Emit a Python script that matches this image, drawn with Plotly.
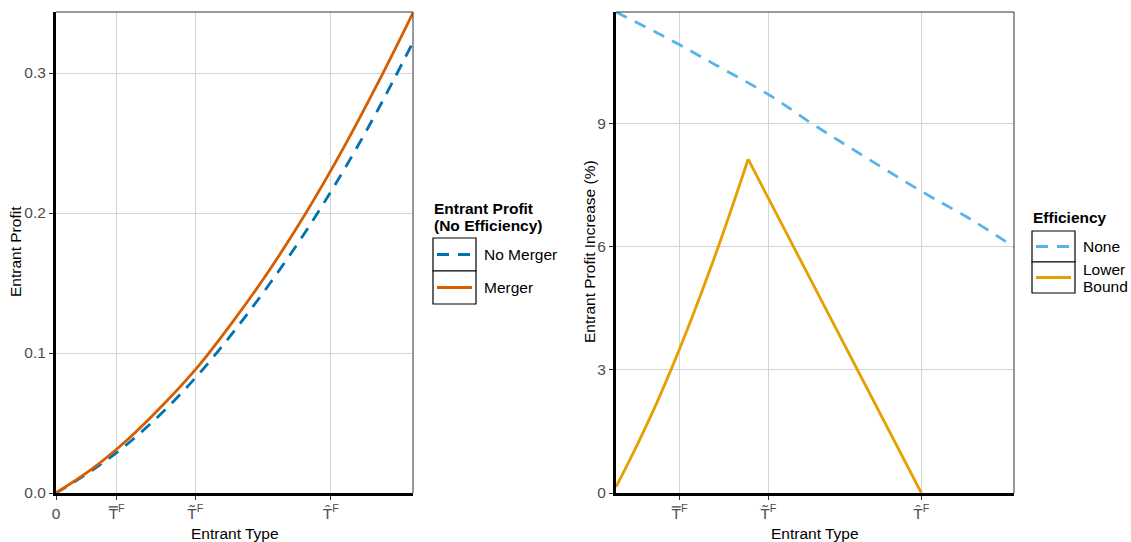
import plotly.graph_objects as go

W, H = 1131, 542

# ---------------- data ----------------
entrant_type = [0.0, 0.1, 0.2, 0.3, 0.4, 0.5, 0.6, 0.7, 0.8, 0.9, 1.0]
profit_no_merger = [0.0, 0.016, 0.035, 0.058, 0.085, 0.116, 0.150, 0.187, 0.228, 0.273, 0.322]
profit_merger = [0.0, 0.017, 0.038, 0.063, 0.091, 0.124, 0.160, 0.200, 0.244, 0.292, 0.343]

type_none = [0.012, 0.1, 0.17, 0.25, 0.39, 0.5, 0.6, 0.77, 0.9, 1.0]
increase_none = [11.73, 11.29, 10.93, 10.49, 9.72, 9.0, 8.38, 7.36, 6.63, 6.0]

type_lower_rise = [0.012, 0.05, 0.1, 0.15, 0.2, 0.25, 0.3, 0.34]
increase_lower_rise = [0.15, 0.88, 1.91, 3.04, 4.26, 5.57, 6.97, 8.14]
type_lower_fall = [0.34, 0.77]
increase_lower_fall = [8.14, 0.0]

tick_positions = [0.17, 0.39, 0.77]
tick_labels = ["T\u033F<sup>F</sup>", "T\u0303<sup>F</sup>", "T\u0302<sup>F</sup>"]

left_yticks = [0.0, 0.1, 0.2, 0.3]
left_yticklabels = ["0.0", "0.1", "0.2", "0.3"]
right_yticks = [0, 3, 6, 9]

# ---------------- styling ----------------
FONT = "Liberation Sans, Arial, sans-serif"
FS = 15.5
C_NOMERGER = "#0072B2"
C_MERGER = "#D55E00"
C_NONE = "#56B4E9"
C_LOWER = "#E69F00"
GRID = "#d4d4d4"
TICKC = "#4d4d4d"

def px(x):
    return x / W

def py(y):
    return 1 - y / H

fig = go.Figure()

fig.add_trace(go.Scatter(x=entrant_type, y=profit_no_merger, mode="lines",
                         line=dict(color=C_NOMERGER, width=2.8, dash="12px,9px", shape="spline"),
                         name="No Merger", xaxis="x", yaxis="y", showlegend=False))
fig.add_trace(go.Scatter(x=entrant_type, y=profit_merger, mode="lines",
                         line=dict(color=C_MERGER, width=2.8, shape="spline"),
                         name="Merger", xaxis="x", yaxis="y", showlegend=False))
fig.add_trace(go.Scatter(x=type_none, y=increase_none, mode="lines",
                         line=dict(color=C_NONE, width=2.8, dash="12px,9px", shape="spline"),
                         name="None", xaxis="x2", yaxis="y2", showlegend=False))
fig.add_trace(go.Scatter(x=type_lower_rise, y=increase_lower_rise, mode="lines",
                         line=dict(color=C_LOWER, width=2.8, shape="spline"),
                         name="Lower Bound", xaxis="x2", yaxis="y2", showlegend=False))
fig.add_trace(go.Scatter(x=type_lower_fall, y=increase_lower_fall, mode="lines",
                         line=dict(color=C_LOWER, width=2.8),
                         name="Lower Bound", xaxis="x2", yaxis="y2", showlegend=False))

ydom = [py(493), py(12)]
axis_common = dict(showgrid=True, gridcolor=GRID, gridwidth=1.2, zeroline=False,
                   showline=True, linecolor="black", linewidth=3, automargin=False,
                   ticks="outside", ticklen=4, tickwidth=1, tickcolor="#333333",
                   tickfont=dict(family=FONT, size=FS, color=TICKC))

fig.update_layout(
    template="none",
    width=W, height=H,
    margin=dict(l=0, r=0, t=0, b=0, pad=0),
    paper_bgcolor="white", plot_bgcolor="white",
    font=dict(family=FONT, size=FS, color="black"),
    showlegend=False,
    xaxis=dict(domain=[px(56), px(413)], range=[0, 1], anchor="y",
               tickmode="array", tickvals=[0] + tick_positions, ticktext=["0"] + tick_labels,
               **axis_common),
    yaxis=dict(domain=ydom, range=[0, 0.3436], anchor="x",
               tickmode="array", tickvals=left_yticks, ticktext=left_yticklabels,
               **axis_common),
    xaxis2=dict(domain=[px(616), px(1014)], range=[0.012, 1], anchor="y2",
                tickmode="array", tickvals=tick_positions, ticktext=tick_labels,
                **axis_common),
    yaxis2=dict(domain=ydom, range=[0, 11.73], anchor="x2",
                tickmode="array", tickvals=right_yticks, ticktext=[str(v) for v in right_yticks],
                **axis_common),
)

shapes = []
# thin top / right borders
for xr, yr in (("x domain", "y domain"), ("x2 domain", "y2 domain")):
    shapes.append(dict(type="line", xref=xr, yref=yr, x0=0, x1=1, y0=1, y1=1,
                       line=dict(color="#333333", width=1)))
    shapes.append(dict(type="line", xref=xr, yref=yr, x0=1, x1=1, y0=0, y1=1,
                       line=dict(color="#333333", width=1)))

annotations = []

def text(t, x, y, anchor="left", angle=0, bold=False):
    annotations.append(dict(text="<b>%s</b>" % t if bold else t, x=px(x), y=py(y),
                            xref="paper", yref="paper", showarrow=False, textangle=angle,
                            xanchor=anchor, yanchor="middle", align="left",
                            font=dict(family=FONT, size=FS, color="black")))

# axis titles
text("Entrant Type", (56 + 413) / 2, 533, anchor="center")
text("Entrant Type", (616 + 1014) / 2, 533, anchor="center")
text("Entrant Profit", 16, 252, anchor="center", angle=-90)
text("Entrant Profit Increase (%)", 590, 252, anchor="center", angle=-90)

# legends (drawn manually in ggplot style)
def legend(title_lines, title_y, x0, box_tops, box_h, entries):
    for i, t in enumerate(title_lines):
        text(t, x0 - 1, title_y + i * 17, bold=True)
    for top, (label_lines, color, dash) in zip(box_tops, entries):
        shapes.append(dict(type="rect", xref="paper", yref="paper",
                           x0=px(x0), x1=px(x0 + 43), y0=py(top), y1=py(top + box_h),
                           line=dict(color="black", width=1.2), fillcolor="white"))
        cy = top + box_h / 2
        shapes.append(dict(type="line", xref="paper", yref="paper",
                           x0=px(x0 + 4), x1=px(x0 + 39), y0=py(cy), y1=py(cy),
                           line=dict(color=color, width=2.8, dash=dash)))
        n = len(label_lines)
        for j, lab in enumerate(label_lines):
            text(lab, x0 + 49, cy + (j - (n - 1) / 2) * 17)

legend(["Entrant Profit", "(No Efficiency)"], 208, 433, [238, 271], 33,
       [(["No Merger"], C_NOMERGER, "12px,9px"), (["Merger"], C_MERGER, "solid")])
legend(["Efficiency"], 217, 1032, [231, 262], 31,
       [(["None"], C_NONE, "12px,9px"), (["Lower", "Bound"], C_LOWER, "solid")])

fig.update_layout(shapes=shapes, annotations=annotations)
fig.write_html("out.html", config={"displayModeBar": False},
               post_script="document.body.style.margin='0';document.body.style.overflow='hidden';")
